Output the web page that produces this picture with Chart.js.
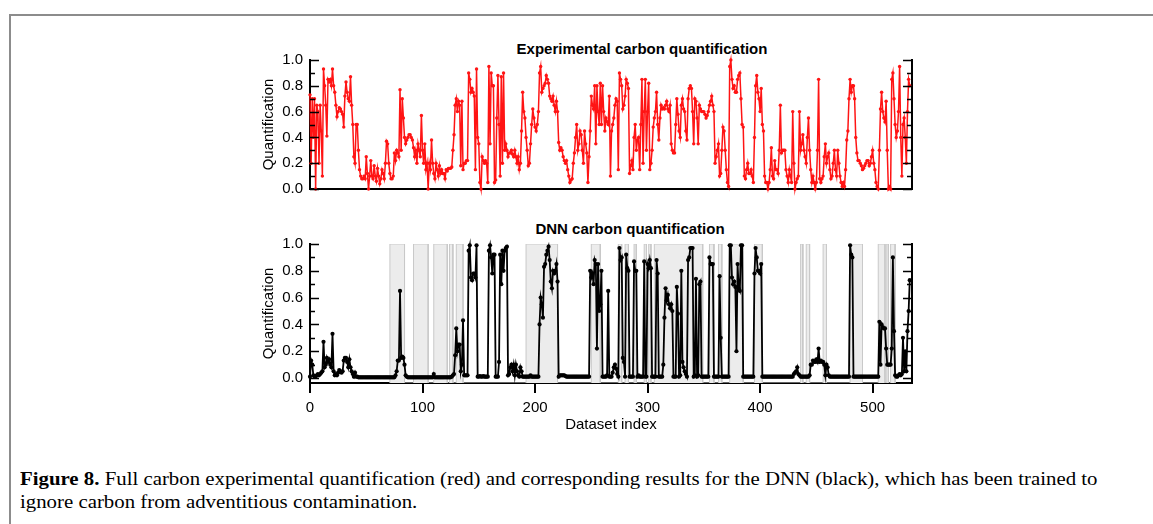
<!DOCTYPE html>
<html>
<head>
<meta charset="utf-8">
<script src="https://cdn.jsdelivr.net/npm/chart.js@4.4.1/dist/chart.umd.min.js"></script>
<style>
body{margin:0;background:#fff;width:1153px;height:524px;position:relative;overflow:hidden;font-family:"Liberation Sans",Arial,sans-serif;color:#000}
.frame{position:absolute;left:9px;top:14px;width:1200px;height:600px;border-top:2px solid #8c8c8c;border-left:2px solid #8c8c8c}
.ttl{position:absolute;font-weight:bold;font-size:15px;white-space:nowrap;transform:translate(-50%,-50%)}
canvas{position:absolute}
#cap{position:absolute;left:20px;top:468px;font-family:"Liberation Serif","Times New Roman",serif;font-size:18px;line-height:23px;white-space:nowrap}
#cap span{display:inline-block;transform-origin:0 50%}
</style>
</head>
<body>
<div class="frame"></div>
<div class="ttl" style="left:642px;top:48px">Experimental carbon quantification</div>
<div class="ttl" style="left:630px;top:228px">DNN carbon quantification</div>
<canvas id="topChart" width="680" height="170" style="left:250px;top:35px"></canvas>
<canvas id="botChart" width="680" height="220" style="left:250px;top:220px"></canvas>
<div id="cap"><span id="l1"><b>Figure 8.</b> Full carbon experimental quantification (red) and corresponding results for the DNN (black), which has been trained to</span><br><span id="l2">ignore carbon from adventitious contamination.</span></div>
<script>
// experimental quantification (red), dataset index 0..533
const expVals = [
0.73,0.2,0.7,0.4,0.7,0.0,0.65,0.6,0.2,0.65,
0.45,0.1,0.93,0.8,0.65,0.41,0.85,0.83,0.85,0.8,
0.93,0.8,0.75,0.65,0.56,0.6,0.63,0.62,0.6,0.58,
0.48,0.72,0.83,0.75,0.7,0.68,0.87,0.65,0.5,0.25,
0.2,0.5,0.5,0.3,0.15,0.1,0.08,0.08,0.1,0.08,
0.25,0.12,0.0,0.1,0.22,0.1,0.08,0.18,0.1,0.06,
0.16,0.1,0.04,0.08,0.15,0.12,0.08,0.2,0.37,0.35,
0.2,0.12,0.08,0.08,0.1,0.28,0.22,0.3,0.28,0.25,
0.77,0.3,0.7,0.55,0.4,0.35,0.38,0.4,0.42,0.42,
0.4,0.38,0.32,0.25,0.3,0.2,0.35,0.3,0.25,0.57,
0.3,0.2,0.35,0.15,0.2,0.0,0.2,0.15,0.38,0.2,
0.12,0.08,0.2,0.15,0.1,0.18,0.12,0.15,0.12,0.12,
0.08,0.15,0.14,0.16,0.16,0.16,0.17,0.3,0.42,0.65,
0.7,0.6,0.68,0.65,0.18,0.68,0.15,0.2,0.2,0.22,
0.22,0.9,0.85,0.75,0.78,0.75,0.72,0.15,0.93,0.4,
0.35,0.05,0.0,0.25,0.22,0.2,0.22,0.2,0.05,0.95,
0.35,0.9,0.8,0.8,0.05,0.07,0.55,0.88,0.5,0.1,
0.87,0.2,0.9,0.3,0.35,0.3,0.25,0.28,0.28,0.3,
0.27,0.25,0.3,0.25,0.2,0.25,0.15,0.2,0.45,0.75,
0.6,0.55,0.4,0.3,0.18,0.2,0.35,0.5,0.62,0.55,
0.48,0.45,0.5,0.6,0.9,0.95,0.75,0.78,0.8,0.82,
0.88,0.85,0.82,0.72,0.7,0.68,0.72,0.65,0.6,0.68,
0.6,0.36,0.3,0.32,0.3,0.25,0.22,0.2,0.22,0.15,
0.1,0.05,0.07,0.08,0.2,0.28,0.4,0.5,0.3,0.35,
0.45,0.42,0.3,0.2,0.45,0.35,0.28,0.05,0.25,0.45,
0.72,0.65,0.62,0.8,0.35,0.8,0.6,0.5,0.82,0.5,
0.8,0.6,0.45,0.55,0.52,0.5,0.72,0.1,0.45,0.5,
0.55,0.65,0.7,0.68,0.15,0.9,0.85,0.8,0.62,0.65,
0.72,0.85,0.82,0.78,0.12,0.18,0.22,0.15,0.4,0.5,
0.3,0.38,0.4,0.15,0.5,0.85,0.2,0.6,0.85,0.3,
0.6,0.82,0.15,0.2,0.3,0.48,0.55,0.6,0.75,0.5,
0.38,0.55,0.65,0.62,0.63,0.62,0.65,0.68,0.62,0.6,
0.65,0.35,0.3,0.28,0.28,0.5,0.7,0.58,0.45,0.4,
0.65,0.7,0.62,0.6,0.45,0.38,0.7,0.78,0.8,0.78,
0.6,0.35,0.7,0.68,0.55,0.35,0.65,0.62,0.6,0.6,
0.6,0.58,0.55,0.57,0.6,0.65,0.68,0.72,0.65,0.6,
0.2,0.25,0.3,0.35,0.1,0.12,0.3,0.48,0.45,0.3,
0.15,0.05,0.02,0.95,1.0,0.85,0.78,0.8,0.75,0.75,
0.85,0.88,0.9,0.7,0.5,0.48,0.1,0.08,0.15,0.2,
0.12,0.12,0.15,0.1,0.05,0.4,0.8,0.88,0.75,0.7,
0.6,0.78,0.5,0.45,0.1,0.05,0.05,0.0,0.05,0.15,
0.32,0.1,0.08,0.22,0.15,0.15,0.12,0.3,0.65,0.28,
0.3,0.3,0.3,0.15,0.1,0.05,0.15,0.1,0.05,0.6,
0.2,0.0,0.05,0.08,0.1,0.6,0.3,0.35,0.42,0.3,
0.25,0.2,0.4,0.55,0.3,0.15,0.05,0.1,0.05,0.0,
0.05,0.3,0.85,0.08,0.05,0.08,0.1,0.25,0.35,0.2,
0.25,0.28,0.15,0.08,0.1,0.2,0.3,0.15,0.1,0.3,
0.2,0.1,0.05,0.02,0.05,0.02,0.15,0.38,0.45,0.7,
0.85,0.75,0.8,0.8,0.7,0.4,0.28,0.22,0.22,0.2,
0.18,0.15,0.16,0.18,0.2,0.22,0.22,0.18,0.2,0.25,
0.3,0.2,0.15,0.05,0.02,0.0,0.3,0.62,0.75,0.6,
0.55,0.52,0.68,0.3,0.0,0.02,0.0,0.85,0.9,0.7,
0.5,0.4,0.45,0.6,0.95,0.4,0.1,0.5,0.55,0.4,
0.2,0.6,0.85,0.8
];

// DNN quantification (black), dataset index 0..533
const dnnVals = [
0.01,0.13,0.1,0.02,0.01,0.01,0.02,0.03,0.02,0.03,
0.04,0.05,0.27,0.08,0.1,0.15,0.12,0.14,0.1,0.08,
0.33,0.05,0.02,0.03,0.02,0.04,0.06,0.05,0.04,0.05,
0.13,0.15,0.15,0.12,0.08,0.14,0.08,0.05,0.03,0.01,
0.04,0.01,0.01,0.005,0.005,0.005,0.005,0.005,0.005,0.005,
0.005,0.005,0.005,0.005,0.005,0.005,0.005,0.005,0.005,0.005,
0.005,0.005,0.005,0.005,0.005,0.005,0.005,0.005,0.005,0.005,
0.005,0.005,0.005,0.005,0.005,0.005,0.02,0.05,0.13,0.13,
0.65,0.15,0.16,0.15,0.1,0.02,0.01,0.005,0.005,0.005,
0.005,0.005,0.005,0.005,0.005,0.005,0.005,0.005,0.005,0.005,
0.005,0.005,0.005,0.005,0.005,0.005,0.005,0.005,0.005,0.005,
0.03,0.005,0.005,0.005,0.005,0.005,0.005,0.005,0.005,0.005,
0.005,0.005,0.005,0.005,0.005,0.005,0.01,0.02,0.03,0.17,
0.37,0.2,0.25,0.25,0.05,0.1,0.43,0.02,0.02,0.02,
0.02,0.95,0.99,0.75,0.73,0.78,0.78,0.75,0.99,0.01,
0.01,0.015,0.01,0.01,0.015,0.01,0.01,0.01,0.01,0.95,
0.99,0.9,0.78,0.92,0.92,0.01,0.01,0.01,0.12,0.92,
0.7,0.95,0.8,0.95,0.97,0.98,0.02,0.03,0.08,0.1,
0.05,0.1,0.02,0.1,0.05,0.02,0.01,0.08,0.05,0.01,
0.01,0.01,0.01,0.01,0.01,0.01,0.02,0.01,0.01,0.01,
0.01,0.01,0.01,0.01,0.4,0.6,0.55,0.45,0.83,0.85,
0.92,0.95,0.98,0.88,0.72,0.67,0.8,0.78,0.8,0.85,
0.72,0.01,0.02,0.02,0.02,0.02,0.02,0.015,0.01,0.01,
0.01,0.01,0.01,0.01,0.01,0.01,0.01,0.01,0.01,0.01,
0.01,0.01,0.01,0.01,0.01,0.01,0.01,0.01,0.01,0.8,
0.75,0.78,0.7,0.88,0.85,0.22,0.85,0.5,0.55,0.8,
0.01,0.01,0.01,0.01,0.02,0.65,0.01,0.01,0.01,0.04,
0.08,0.1,0.07,0.03,0.01,0.97,0.88,0.9,0.15,0.12,
0.01,0.92,0.82,0.8,0.01,0.01,0.01,0.01,0.87,0.8,
0.8,0.01,0.02,0.01,0.01,0.01,0.01,0.87,0.01,0.01,
0.85,0.82,0.88,0.82,0.01,0.01,0.01,0.01,0.88,0.78,
0.01,0.01,0.01,0.01,0.1,0.45,0.67,0.58,0.62,0.55,
0.52,0.55,0.5,0.01,0.01,0.01,0.68,0.48,0.01,0.02,
0.8,0.12,0.08,0.05,0.03,0.01,0.88,0.9,0.97,0.97,
0.97,0.01,0.02,0.74,0.01,0.02,0.7,0.72,0.01,0.01,
0.01,0.01,0.01,0.01,0.01,0.9,0.85,0.85,0.85,0.01,
0.01,0.01,0.01,0.01,0.76,0.3,0.01,0.01,0.01,0.01,
0.01,0.01,0.01,0.99,0.99,0.75,0.7,0.72,0.68,0.2,
0.85,0.67,0.65,0.99,0.99,0.01,0.01,0.01,0.01,0.01,
0.01,0.01,0.01,0.01,0.01,0.78,0.97,0.9,0.8,0.8,
0.78,0.85,0.01,0.01,0.01,0.01,0.01,0.01,0.01,0.01,
0.01,0.01,0.01,0.01,0.01,0.01,0.01,0.01,0.01,0.01,
0.01,0.01,0.01,0.01,0.01,0.01,0.01,0.01,0.01,0.01,
0.03,0.04,0.05,0.08,0.03,0.02,0.01,0.01,0.01,0.01,
0.01,0.01,0.01,0.01,0.02,0.1,0.1,0.13,0.12,0.12,
0.14,0.12,0.22,0.12,0.13,0.12,0.12,0.1,0.02,0.1,
0.08,0.02,0.01,0.01,0.01,0.01,0.01,0.01,0.01,0.01,
0.01,0.01,0.01,0.01,0.01,0.01,0.01,0.01,0.01,0.01,
0.99,0.92,0.9,0.01,0.01,0.01,0.01,0.01,0.01,0.01,
0.01,0.01,0.01,0.01,0.01,0.01,0.01,0.01,0.01,0.01,
0.01,0.01,0.01,0.01,0.01,0.01,0.42,0.1,0.4,0.38,
0.37,0.37,0.22,0.1,0.1,0.1,0.1,0.22,0.9,0.35,
0.02,0.01,0.01,0.02,0.03,0.02,0.03,0.3,0.05,0.2,
0.05,0.35,0.5,0.73
];

// grey bands in the DNN panel (dataset index ranges)
const shadeStart = [71,92,110,124,130,192,250,274,280,288,297,301,306,355,363,373,395,436,441,456,480,505,512,516];
const shadeEnd   = [84,105,122,127,136,220,258,277,283,290,299,303,349,359,366,385,402,438,444,459,491,511,514,520];

const yTicks = [0, 0.2, 0.4, 0.6, 0.8, 1.0];
const xTicks = [0, 100, 200, 300, 400, 500];
const xMax = 535;
const botYMin = -0.037;

const tickFont = {family: '"Liberation Sans", Arial, sans-serif', size: 15};

// inward ticks on both vertical axes, every 0.1
const innerTicks = {
    id: 'innerTicks',
    afterDraw(chart) {
        let ctx = chart.ctx, y = chart.scales.y, a = chart.chartArea;
        ctx.save();
        ctx.strokeStyle = '#000';
        ctx.lineWidth = 1.5;
        for (let k = 0; k <= 10; k++) {
            let py = Math.round(y.getPixelForValue(k / 10)) + 0.5;
            let len = (k % 2 === 0) ? 9 : 5;
            ctx.beginPath();
            ctx.moveTo(a.left, py); ctx.lineTo(a.left + len, py);
            ctx.moveTo(a.right, py); ctx.lineTo(a.right - len, py);
            ctx.stroke();
        }
        ctx.restore();
    }
};

const points = arr => arr.map((v, i) => ({x: i, y: v}));

const yAxis = (min, title) => ({
    type: 'linear', position: 'left', min: min, max: 1,
    afterBuildTicks: s => { s.ticks = yTicks.map(v => ({value: v})); },
    afterFit: s => { s.width = 60; },
    grid: {display: false, drawTicks: false},
    border: {display: true, color: '#000', width: 2},
    ticks: {color: '#000', font: tickFont, padding: 7, callback: v => v.toFixed(1)},
    title: {display: true, text: title, color: '#000', font: tickFont, padding: {top: 10, bottom: 0}}
});
const rightAxis = min => ({
    type: 'linear', position: 'right', min: min, max: 1,
    afterFit: s => { s.width = 18; },
    grid: {display: false},
    border: {display: true, color: '#000', width: 2},
    ticks: {display: false}
});

/******************* top panel *******************/
new Chart(document.getElementById('topChart'), {
    type: 'line',
    data: {
        datasets: [{
            data: points(expVals),
            borderColor: '#ff1414',
            backgroundColor: '#ff1414',
            borderWidth: 1.5,
            pointRadius: 1.7,
            pointBorderWidth: 0,
            pointBackgroundColor: '#ff1414',
            clip: false
        }]
    },
    options: {
        responsive: false, animation: false, devicePixelRatio: 1,
        layout: {padding: {top: 25, left: 0, right: 0, bottom: 0}},
        plugins: {legend: {display: false}, tooltip: {enabled: false}},
        scales: {
            x: {
                type: 'linear', min: 0, max: xMax,
                afterFit: s => { s.height = 11; },
                grid: {display: false},
                border: {display: true, color: '#000', width: 2},
                ticks: {display: false}
            },
            y: yAxis(0, 'Quantification'),
            y2: rightAxis(0)
        }
    },
    plugins: [innerTicks]
});

/******************* bottom panel *******************/
let shadePts = [];
for (let k = 0; k < shadeStart.length; k++) {
    shadePts.push({x: shadeStart[k], y: botYMin}, {x: shadeStart[k], y: 1},
                  {x: shadeEnd[k], y: 1}, {x: shadeEnd[k], y: botYMin});
}

new Chart(document.getElementById('botChart'), {
    type: 'line',
    data: {
        datasets: [{
            data: points(dnnVals),
            borderColor: '#000',
            borderWidth: 1.8,
            pointRadius: 2.1,
            pointBorderWidth: 0,
            pointBackgroundColor: '#000',
            clip: false,
            order: 1
        }, {
            data: shadePts,
            borderColor: '#c9c9c9',
            backgroundColor: '#ececec',
            borderWidth: 1,
            pointRadius: 0,
            fill: 'start',
            order: 2
        }]
    },
    options: {
        responsive: false, animation: false, devicePixelRatio: 1,
        layout: {padding: {top: 24, left: 0, right: 0, bottom: 0}},
        plugins: {legend: {display: false}, tooltip: {enabled: false}},
        scales: {
            x: {
                type: 'linear', min: 0, max: xMax,
                afterBuildTicks: s => { s.ticks = xTicks.map(v => ({value: v})); },
                afterFit: s => { s.height = 57; },
                grid: {display: true, drawOnChartArea: false, drawTicks: true, tickLength: 10, color: '#000', lineWidth: 2},
                border: {display: true, color: '#000', width: 2},
                ticks: {color: '#000', font: tickFont, padding: 6, maxRotation: 0},
                title: {display: true, text: 'Dataset index', color: '#000', font: tickFont, padding: {top: 0, bottom: 6}}
            },
            y: yAxis(botYMin, 'Quantification'),
            y2: rightAxis(botYMin)
        }
    },
    plugins: [innerTicks]
});

// squeeze caption lines to the printed width
const l1 = document.getElementById('l1'), l2 = document.getElementById('l2');
const sc = 1077 / l1.offsetWidth;
l1.style.transform = 'scaleX(' + sc + ')';
l2.style.transform = 'scaleX(' + sc + ')';
</script>
</body>
</html>
